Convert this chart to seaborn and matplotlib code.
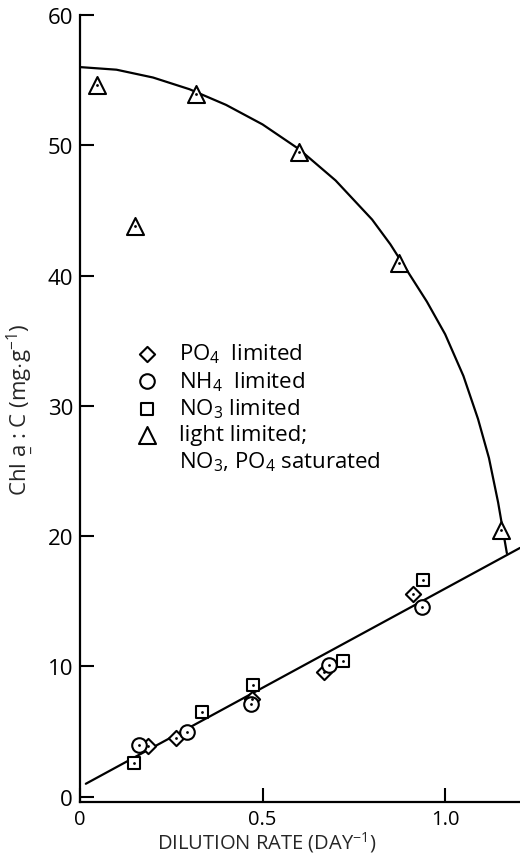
import matplotlib
matplotlib.use("Agg")
import matplotlib.pyplot as plt
from matplotlib.lines import Line2D
import seaborn as sns
import pandas as pd

# Chlorophyll a : carbon ratio vs. dilution rate
light_x = [0.047, 0.15, 0.318, 0.60, 0.874, 1.153]
light_y = [54.6, 43.8, 53.9, 49.5, 41.0, 20.5]

po4_x = [0.185, 0.262, 0.472, 0.667, 0.911]
po4_y = [3.9, 4.5, 7.5, 9.6, 15.6]

nh4_x = [0.162, 0.292, 0.468, 0.682, 0.936]
nh4_y = [4.0, 5.0, 7.1, 10.1, 14.6]

no3_x = [0.149, 0.333, 0.475, 0.721, 0.939]
no3_y = [2.6, 6.5, 8.6, 10.4, 16.6]

# hand-fitted curve through the light-limited cultures
curve_x = [0.0, 0.1, 0.2, 0.3, 0.4, 0.5, 0.6, 0.7, 0.8, 0.85, 0.9,
           0.95, 1.0, 1.05, 1.09, 1.12, 1.145, 1.169]
curve_y = [56.0, 55.8, 55.2, 54.3, 53.1, 51.6, 49.7, 47.3, 44.3, 42.4, 40.2,
           38.0, 35.5, 32.3, 29.0, 26.0, 22.6, 18.7]

# regression line through the nutrient-limited cultures
fit_x = [0.016, 1.205]
fit_y = [1.0, 19.1]

x_ticks = [0, 0.5, 1.0]
x_tick_labels = ["0", "0.5", "1.0"]
y_ticks = [0, 10, 20, 30, 40, 50, 60]

sns.set_style("ticks")
plt.rcParams["font.family"] = ["Open Sans", "DejaVu Sans"]
plt.rcParams["mathtext.fontset"] = "custom"
plt.rcParams["mathtext.rm"] = "Open Sans"
plt.rcParams["mathtext.it"] = "Open Sans"
plt.rcParams["text.color"] = "black"

fig = plt.figure(figsize=(5.2, 8.54), dpi=100)
ax = fig.add_axes([0.1538, 0.0597, 0.8462, 0.9216])

lw = 1.6
sns.lineplot(x=curve_x, y=curve_y, sort=False, color="black", lw=lw, ax=ax, zorder=1)
sns.lineplot(x=fit_x, y=fit_y, sort=False, color="black", lw=lw, ax=ax, zorder=1)

groups = [
    (po4_x, po4_y, "D", 60, r"PO$_4$  limited"),
    (nh4_x, nh4_y, "o", 110, r"NH$_4$  limited"),
    (no3_x, no3_y, "s", 64, r"NO$_3$ limited"),
    (light_x, light_y, "^", 150, "light limited;"),
]
handles = []
labels = []
for gx, gy, mk, sz, lab in groups:
    df = pd.DataFrame({"D": gx, "chl": gy})
    sns.scatterplot(data=df, x="D", y="chl", marker=mk, s=sz, color="white",
                    edgecolor="black", linewidth=1.5, ax=ax, zorder=3, legend=False)
    handles.append(ax.collections[-1])
    labels.append(lab)
    sns.scatterplot(data=df, x="D", y="chl", marker="o", s=4, color="black",
                    edgecolor="black", linewidth=0, ax=ax, zorder=4, legend=False)

# continuation line of the last legend entry
handles.append(Line2D([], [], linestyle="none"))
labels.append(r"NO$_3$, PO$_4$ saturated")

ax.legend(handles, labels, loc="upper left", bbox_to_anchor=(0.126, 0.585),
          frameon=False, fontsize=16, handletextpad=0.95, labelspacing=0.18,
          borderpad=0, borderaxespad=0, handlelength=1.0)

ax.set_xlim(0, 1.205)
ax.set_ylim(-0.4, 60)
ax.set_xticks(x_ticks)
ax.set_xticklabels(x_tick_labels)
ax.set_yticks(y_ticks)
ax.tick_params(direction="in", length=10, width=1.5, colors="black")
ax.tick_params(axis="x", pad=5, labelsize=14.5)
ax.tick_params(axis="y", pad=5, labelsize=16)

for side in ["top", "right"]:
    ax.spines[side].set_visible(False)
for side in ["left", "bottom"]:
    ax.spines[side].set_linewidth(1.6)
    ax.spines[side].set_color("black")

ax.set_xlabel(r"DILUTION RATE (DAY$^{-1}$)", fontsize=14.5, va="baseline")
ax.xaxis.set_label_coords(0.425, -0.059)
ax.set_ylabel(r"Chl $\underset{\_}{\mathrm{a}}$ : C (mg$\cdot$g$^{-1}$)", fontsize=16)
ax.yaxis.set_label_coords(-0.10, 0.5)

fig.savefig("out.png", dpi=100)
